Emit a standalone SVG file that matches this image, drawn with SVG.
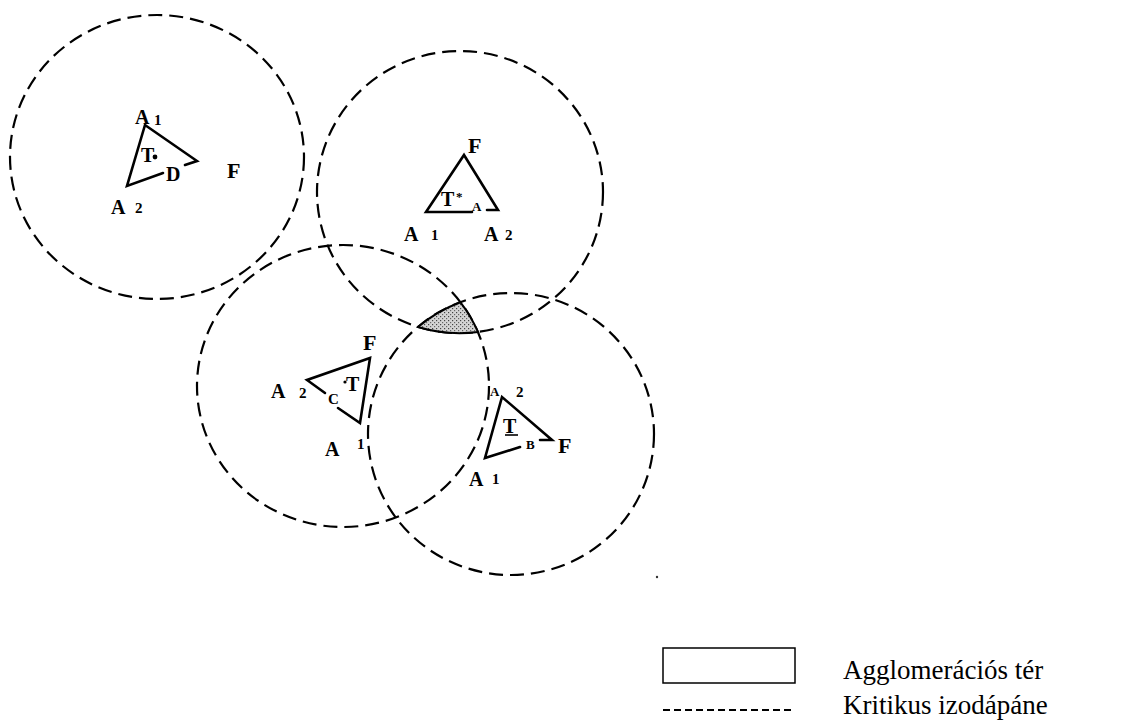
<svg xmlns="http://www.w3.org/2000/svg" width="1147" height="724" viewBox="0 0 1147 724">
  <style>
    .zone { fill: none; stroke: #000; stroke-width: 2.2; stroke-dasharray: 14 7; }
    .tri { fill: none; stroke: #000; stroke-width: 2.6; stroke-linejoin: miter; stroke-linecap: round; }
    .lbl { font-family: "Liberation Serif", "Times New Roman", serif; font-weight: bold; fill: #000; }
    .big { font-size: 20px; }
    .f { font-size: 22px; }
    .sub { font-size: 15px; }
    .sm { font-size: 13px; }
    .legend { font-family: "Liberation Serif", "Times New Roman", serif; font-size: 27px; fill: #000; }
  </style>
  <defs>
    <!-- stippled fill for the overlap area -->
    <pattern id="stipple" width="4" height="4" patternUnits="userSpaceOnUse">
      <rect width="4" height="4" fill="#d4d4d4"/>
      <rect x="0" y="0" width="1.2" height="1.2" fill="#444"/>
      <rect x="2" y="2" width="1.2" height="1.2" fill="#666"/>
    </pattern>
  </defs>

  <rect width="1147" height="724" fill="#fff"/>

  <!-- critical isodapane circles -->
  <g id="isodapanes">
    <ellipse class="zone" cx="157" cy="157" rx="147" ry="142"/>
    <ellipse class="zone" cx="460" cy="192" rx="143" ry="141"/>
    <ellipse class="zone" cx="343" cy="386" rx="146" ry="141"/>
    <ellipse class="zone" cx="511" cy="434" rx="143" ry="141"/>
  </g>

  <!-- agglomeration area: common part of three circles -->
  <g id="agglomeration">
    <path d="M418,327 A143,141 0 0 1 460.5,302.3 A146,141 0 0 1 478,332 A143,141 0 0 1 418,327 Z"
          fill="url(#stipple)" stroke="#000" stroke-width="2"/>
  </g>

  <!-- location D -->
  <g id="site-d">
    <path class="tri" d="M185,165 L197,161 L145,125 L127,186 L163,173"/>
    <text class="lbl big" x="135" y="124">A</text>
    <text class="lbl sub" x="154" y="125">1</text>
    <text class="lbl big" x="141" y="162">T</text>
    <circle cx="155" cy="157" r="2.4" fill="#000"/>
    <text class="lbl big" x="166" y="181" font-size="17">D</text>
    <text class="lbl f" x="227" y="178">F</text>
    <text class="lbl big" x="111" y="214">A</text>
    <text class="lbl sub" x="135" y="213">2</text>
  </g>

  <!-- location A -->
  <g id="site-a">
    <path class="tri" d="M472,212 L426,212 L464,155 L498,210 L487,210"/>
    <text class="lbl f" x="468" y="153">F</text>
    <text class="lbl big" x="441" y="206">T</text>
    <text class="lbl sm" x="456" y="201">*</text>
    <text class="lbl sm" x="472" y="211">A</text>
    <text class="lbl big" x="404" y="241">A</text>
    <text class="lbl sub" x="431" y="240">1</text>
    <text class="lbl big" x="484" y="241">A</text>
    <text class="lbl sub" x="505" y="240">2</text>
  </g>

  <!-- location C -->
  <g id="site-c">
    <path class="tri" d="M325,393 L307,380 L370,358 L360,423 L338,408"/>
    <text class="lbl f" x="363" y="350">F</text>
    <text class="lbl sub" x="328" y="404">C</text>
    <circle cx="345" cy="382" r="1.6" fill="#000"/>
    <text class="lbl big" x="346" y="391">T</text>
    <text class="lbl big" x="271" y="398">A</text>
    <text class="lbl sub" x="299" y="398">2</text>
    <text class="lbl big" x="325" y="456">A</text>
    <text class="lbl sub" x="357" y="449">1</text>
  </g>

  <!-- location B -->
  <g id="site-b">
    <path class="tri" d="M540,440 L552,440 L502,397 L485,458 L520,447"/>
    <text class="lbl sm" x="490" y="396">A</text>
    <text class="lbl sub" x="516" y="397">2</text>
    <text class="lbl big" x="503" y="433" font-size="17">T</text>
    <line x1="505" y1="435" x2="518" y2="435" stroke="#000" stroke-width="1.6"/>
    <text class="lbl sm" x="526" y="449">B</text>
    <text class="lbl f" x="558" y="453">F</text>
    <text class="lbl big" x="469" y="486">A</text>
    <text class="lbl sub" x="492" y="484">1</text>
  </g>

  <circle cx="657" cy="577" r="1.2" fill="#333"/>

  <!-- legend -->
  <g id="legend">
    <rect x="663" y="648" width="132" height="35" fill="#fff" stroke="#000" stroke-width="1.5"/>
    <text class="legend" x="843" y="679">Agglomerációs tér</text>
    <line x1="663" y1="710" x2="793" y2="710" stroke="#000" stroke-width="2" stroke-dasharray="7 4"/>
    <text class="legend" x="843" y="714">Kritikus izodápáne</text>
  </g>
</svg>
